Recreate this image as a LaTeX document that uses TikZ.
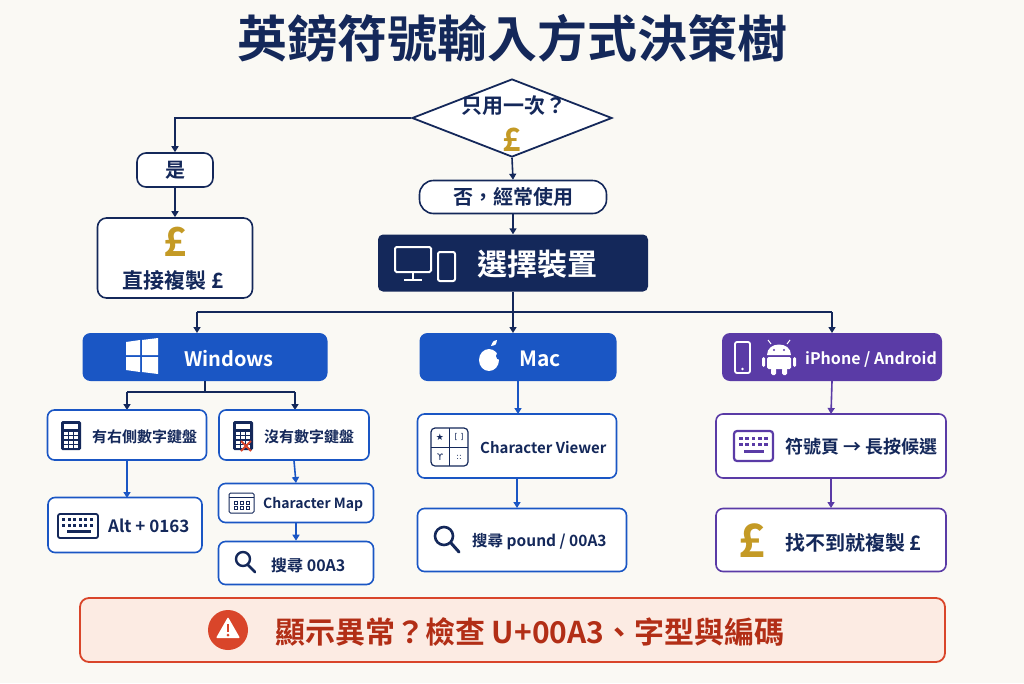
\documentclass[tikz,border=0pt]{standalone}
\usepackage{fontspec}
\setmainfont{Noto Sans CJK TC}[BoldFont={Noto Sans CJK TC Bold}]
\newfontfamily\dejavu{DejaVu Sans}
\usetikzlibrary{shapes.geometric,arrows.meta}
\definecolor{bg}{HTML}{FAF9F4}
\definecolor{navy}{HTML}{14285A}
\definecolor{blu}{HTML}{1A56C4}
\definecolor{pur}{HTML}{5A3BA6}
\definecolor{gold}{HTML}{C49A25}
\definecolor{red1}{HTML}{D9452A}
\definecolor{red2}{HTML}{B22E16}
\definecolor{peach}{HTML}{FCEBE3}
\newcommand{\fs}[1]{\fontsize{#1}{#1}\selectfont}
\begin{document}
\begin{tikzpicture}[x=1pt,y=-1pt,font=\bfseries,
  box/.style={draw=#1,line width=1.6pt,rounded corners=7pt,fill=white,anchor=center,inner sep=0pt},
  nbox/.style={draw=navy,line width=1.6pt,rounded corners=9pt,fill=white,inner sep=0pt},
  lbl/.style={text=navy,font=\bfseries\fs{#1},anchor=west,inner sep=0pt},
  arr/.style={line width=1.6pt,draw=#1,-{Triangle[length=6pt,width=7pt]}},
  ln/.style={line width=1.6pt,draw=#1}]
\fill[bg] (0,0) rectangle (1024,683);
\useasboundingbox (0,0) rectangle (1024,683);
\node[text=navy,font=\bfseries\fs{50}] (title) at (512,38) {英鎊符號輸入方式決策樹};
% diamond
\node[draw=navy,line width=1.8pt,diamond,fill=white,minimum width=200pt,minimum height=78pt,inner sep=0pt] (d) at (512,118) {};
\node[text=navy,font=\bfseries\fs{21}] (dq) at (514,106) {只用一次？};
\node[text=gold,font=\bfseries\fs{32}] (dp) at (512,140) {£};
\node[nbox,minimum width=76pt,minimum height=34pt,text=navy,font=\bfseries\fs{20}] (yes) at (175,170) {是};
\node[nbox,minimum width=155pt,minimum height=80pt] (copy) at (175,258) {};
\node[text=gold,font=\bfseries\fs{40}] (cp) at (175,242) {£};
\node[text=navy,font=\bfseries\fs{21}] (ct) at (173,281) {直接複製 £};
\node[nbox,rounded corners=14pt,minimum width=187pt,minimum height=33pt,text=navy,font=\bfseries\fs{20}] (no) at (513,197) {否，經常使用};
\node[fill=navy,rounded corners=5pt,minimum width=270pt,minimum height=57pt] (dev) at (513,263) {};
\node[text=white,font=\bfseries\fs{30},anchor=west,inner sep=0pt] (devt) at (477,264) {選擇裝置};
% monitor icon
\draw[white,line width=2pt,rounded corners=1.5pt] (395,247) rectangle (431,272);
\draw[white,line width=2pt] (413,272) -- (413,279) (404,280) -- (422,280);
\draw[white,line width=2pt,rounded corners=2pt] (438,252) rectangle (455,281);
\draw[arr=navy] (d.west) -| (yes.north);
\draw[arr=navy] (yes.south) -- (copy.north);
\draw[arr=navy] (d.south) -- (no.north);
\draw[arr=navy] (no.south) -- (dev.north);
% platforms
\node[fill=blu,rounded corners=8pt,minimum width=245pt,minimum height=48pt] (win) at (205,357) {};
\node[fill=blu,rounded corners=8pt,minimum width=197pt,minimum height=48pt] (mac) at (518,357) {};
\node[fill=pur,rounded corners=8pt,minimum width=220pt,minimum height=48pt] (mob) at (832,357) {};
\coordinate (j) at (513,312);
\draw[ln=navy] (dev.south) -- (j);
\draw[ln=navy] (197,312) -- (832,312);
\draw[arr=navy] (197,312) -- (197,333);
\draw[arr=navy] (j) -- (513,333);
\draw[arr=navy] (832,312) -- (832,333);
\node[text=white,font=\bfseries\fs{20},anchor=west,inner sep=0pt] (wt) at (184,359) {Windows};
\fill[white] (126,342) -- (140,340) -- (140,355) -- (126,355) -- cycle
 (142,340) -- (158,338) -- (158,355) -- (142,355) -- cycle
 (126,357) -- (140,357) -- (140,372) -- (126,370) -- cycle
 (142,357) -- (158,357) -- (158,374) -- (142,372) -- cycle;
\node[text=white,font=\bfseries\fs{21},anchor=west,inner sep=0pt] (mt) at (519,359) {Mac};
\fill[white] (489,360) ellipse (10pt and 11pt);
\fill[white] (491,346) .. controls (493,341) .. (497,340) .. controls (496,345) .. (491,346);
\fill[blu] (500,356) circle (4pt);
\node[text=white,font=\bfseries\fs{16},anchor=west,inner sep=0pt] (pt) at (805,359) {iPhone / Android};
\draw[white,line width=1.8pt,rounded corners=2pt] (735,342) rectangle (750,373);
\fill[white] (742.5,369) circle (1.3pt);
\fill[white] (767,355) -- (791,355) .. controls (791,341) and (767,341) .. (767,355);
\draw[white,line width=1pt] (771,344) -- (768,340) (787,344) -- (790,340);
\fill[white,rounded corners=1.5pt] (767,357) rectangle (791,369);
\fill[white,rounded corners=1.5pt] (771,368) rectangle (776,375) (782,368) rectangle (787,375);
\fill[white,rounded corners=1.5pt] (762,357) rectangle (765,367) (793,357) rectangle (796,367);
\fill[pur] (774,350) circle (1.2pt) (784,350) circle (1.2pt);
% windows subtree
\coordinate (wj) at (205,392);
\draw[ln=navy] (win.south) -- (wj);
\draw[ln=navy] (127,392) -- (295,392);
\draw[arr=navy] (127,392) -- (127,410);
\draw[arr=navy] (295,392) -- (295,410);
\node[box=blu,minimum width=159pt,minimum height=50pt] (w1) at (127,435) {};
\node[lbl=15] at (92,437) {有右側數字鍵盤};
\node[box=blu,minimum width=150pt,minimum height=50pt] (w2) at (294,435) {};
\node[lbl=15] at (264,437) {沒有數字鍵盤};
\foreach \cx in {71,243}{
 \fill[navy,rounded corners=1.5pt] (\cx-10,421) rectangle (\cx+10,450);
 \fill[white] (\cx-7,424) rectangle (\cx+7,429);
 \foreach \i in {0,1,2} \foreach \k in {0,1,2,3}
   \fill[white] (\cx-7+\i*5,432+\k*4.3) rectangle +(3.5,3);}
\draw[red1,line width=2pt] (241,441) -- (251,451) (251,441) -- (241,451);
\node[box=blu,minimum width=154pt,minimum height=55pt] (w3) at (125,525) {};
\node[lbl=17] at (108,526) {Alt + 0163};
\draw[navy,line width=1.8pt,rounded corners=2pt] (58,514) rectangle (98,538);
\foreach \i in {0,...,5}{\fill[navy] (62+\i*5.6,518) rectangle +(3,3); \fill[navy] (62+\i*5.6,524) rectangle +(3,3);}
\fill[navy] (67,530) rectangle (91,533);
\node[box=blu,minimum width=155pt,minimum height=39pt] (w4) at (296,503) {};
\node[lbl=14] at (263,504) {Character Map};
\draw[navy,line width=1pt,rounded corners=1.5pt] (229,493) rectangle (254,513);
\draw[navy,line width=0.8pt] (229,497) -- (254,497);
\foreach \i in {0,1,2} \foreach \k in {0,1} \draw[navy,line width=0.7pt] (234+\i*6,501+\k*5) rectangle +(3.5,3);
\node[box=blu,minimum width=155pt,minimum height=43pt] (w5) at (296,563) {};
\node[lbl=16] at (271,565) {搜尋 00A3};
\draw[navy,line width=2.4pt] (243,559) circle (7pt);
\draw[navy,line width=2.8pt,line cap=round] (248,565) -- (255,572);
\draw[arr=blu] (w1.south) -- (127,498);
\draw[arr=blu] (w2.south) -- (296,483);
\draw[arr=blu] (w4.south) -- (w5.north);
% mac subtree
\draw[arr=blu] (mac.south) -- (518,414);
\node[box=blu,minimum width=199pt,minimum height=64pt] (m1) at (517,446) {};
\node[lbl=15] at (480,448) {Character Viewer};
\draw[navy,line width=1.2pt,rounded corners=4pt] (431,428) rectangle (468,466);
\draw[navy,line width=0.8pt] (449.5,428) -- (449.5,466) (431,447) -- (468,447);
\node[text=navy,font=\dejavu\fs{9}] at (440,437) {★};
\node[text=navy,font=\dejavu\fs{8}] at (459,437) {[ ]};
\node[text=navy,font=\dejavu\fs{9}] at (440,457) {ϒ};
\node[text=navy,font=\dejavu\fs{8}] at (459,457) {::};
\draw[arr=blu] (m1.south) -- (517,508);
\node[box=blu,minimum width=209pt,minimum height=63pt] (m2) at (522,540) {};
\node[lbl=15.5] at (472,542) {搜尋 pound / 00A3};
\draw[navy,line width=2.6pt] (444,536) circle (9pt);
\draw[navy,line width=3pt,line cap=round] (451,543) -- (459,552);
% mobile subtree
\draw[arr=pur] (mob.south) -- (831,414);
\node[box=pur,minimum width=230pt,minimum height=64pt] (p1) at (831,446) {};
\node[lbl=18] at (785,447) {符號頁 → 長按候選};
\draw[pur,line width=2.2pt,rounded corners=3pt] (734,431) rectangle (773,461);
\foreach \i in {0,...,4}{\fill[pur] (739+\i*6.3,437) rectangle +(3.8,3.2); \fill[pur] (739+\i*6.3,443) rectangle +(3.8,3.2);}
\fill[pur] (744,450) rectangle (764,453);
\draw[arr=pur] (p1.south) -- (831,508);
\node[box=pur,minimum width=230pt,minimum height=63pt] (p2) at (831,540) {};
\node[text=gold,font=\bfseries\fs{46}] at (752,541) {£};
\node[lbl=20] at (785,543) {找不到就複製 £};
% banner
\node[draw=red1,line width=1.8pt,fill=peach,rounded corners=9pt,minimum width=865pt,minimum height=64pt] (ban) at (512.5,630) {};
\fill[red1] (228,630) circle (20pt);
\fill[white,rounded corners=1pt] (228,617) -- (240,638) -- (216,638) -- cycle;
\fill[red1] (226.6,624) rectangle (229.4,632);
\fill[red1] (228,635) circle (1.5pt);
\node[text=red2,font=\bfseries\fs{30},anchor=west,inner sep=0pt] at (275,632) {顯示異常？檢查 U+00A3、字型與編碼};
\end{tikzpicture}
\end{document}
